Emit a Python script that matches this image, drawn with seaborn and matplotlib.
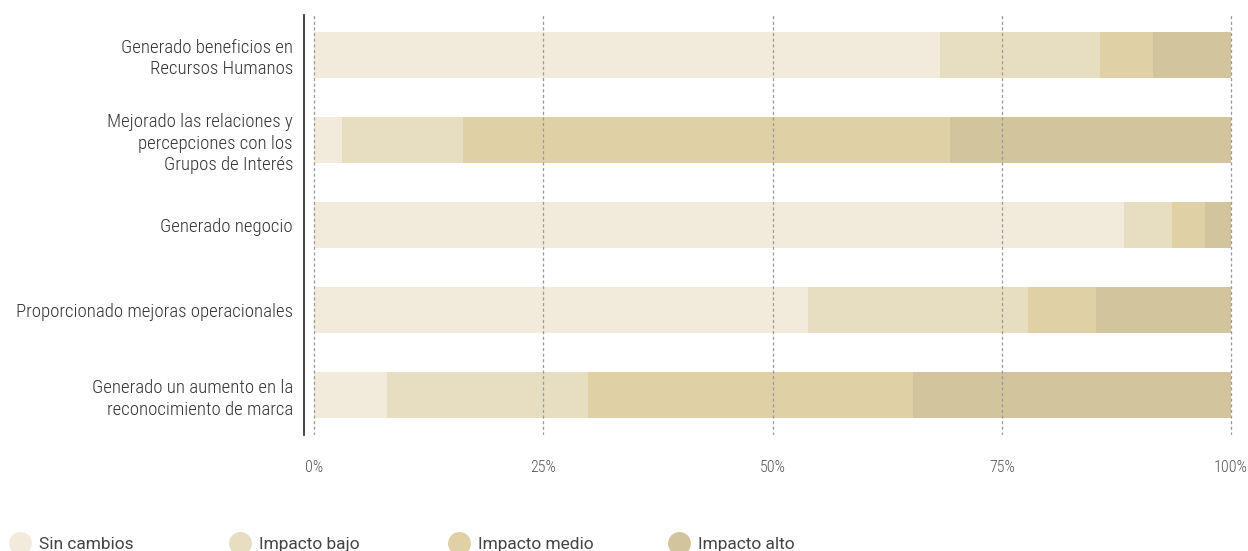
import numpy as np
import pandas as pd
import seaborn as sns
import matplotlib.pyplot as plt
from matplotlib import font_manager
from matplotlib.lines import Line2D

categories = [
    "Generado beneficios en\nRecursos Humanos",
    "Mejorado las relaciones y\npercepciones con los\nGrupos de Interés",
    "Generado negocio",
    "Proporcionado mejoras operacionales",
    "Generado un aumento en la\nreconocimiento de marca",
]
levels = ["Sin cambios", "Impacto bajo", "Impacto medio", "Impacto alto"]
sin_cambios = [68.3, 3.0, 88.3, 53.9, 7.9]
impacto_bajo = [17.4, 13.2, 5.3, 24.0, 22.0]
impacto_medio = [5.8, 53.2, 3.6, 7.4, 35.4]
impacto_alto = [8.5, 30.6, 2.8, 14.7, 34.7]
colors = ["#F2EBDC", "#E7DDC1", "#DFD0A6", "#D2C49D"]

df = pd.DataFrame({"categoria": categories,
                   levels[0]: sin_cambios, levels[1]: impacto_bajo,
                   levels[2]: impacto_medio, levels[3]: impacto_alto})
cum = df[levels].cumsum(axis=1)

# condensed face for the axis labels if present, plain Roboto otherwise
installed = {f.name for f in font_manager.fontManager.ttflist}
if "Roboto Condensed" in installed:
    lab_font = font_manager.FontProperties(family="Roboto Condensed", weight="light", size=13.5)
    tick_font = font_manager.FontProperties(family="Roboto Condensed", weight="light", size=11.5)
else:
    lab_font = font_manager.FontProperties(family="Roboto", size=12.5)
    tick_font = font_manager.FontProperties(family="Roboto", size=11)

sns.set_style("white")
plt.rcParams["font.family"] = ["Roboto", "DejaVu Sans"]

fig = plt.figure(figsize=(12.48, 5.51), dpi=100)
ax = fig.add_axes([304 / 1248, 1 - 435 / 551, (1232.5 - 304) / 1248, 420 / 551])

# stacked bars: draw cumulative totals from widest to narrowest
for lvl, col in reversed(list(zip(levels, colors))):
    sns.barplot(x=cum[lvl], y=df["categoria"], color=col, orient="h",
                width=0.54, ax=ax, saturation=1, edgecolor="none")

ax.set_xlim(-1.1, 100.16)
ax.set_ylim(4.47, -0.47)
ax.set_xticks([0, 25, 50, 75, 100])
ax.set_xticklabels(["0%", "25%", "50%", "75%", "100%"])
ax.set_xlabel("")
ax.set_ylabel("")
ax.set_axisbelow(False)
ax.grid(axis="x", color="#9a9a9a", linestyle=(0, (2.5, 2)), linewidth=0.9)
ax.grid(axis="y", visible=False)
for s in ["top", "right", "bottom"]:
    ax.spines[s].set_visible(False)
ax.spines["left"].set_color("#222222")
ax.spines["left"].set_linewidth(1.2)
ax.tick_params(axis="x", length=0, pad=18, labelcolor="#555555")
ax.tick_params(axis="y", length=0, pad=8, labelcolor="#333333")
for t in ax.get_yticklabels():
    t.set_fontproperties(lab_font)
    t.set_linespacing(1.25)
for t in ax.get_xticklabels():
    t.set_fontproperties(tick_font)

# legend: evenly spaced entries along the bottom edge
for i, (lvl, col) in enumerate(zip(levels, colors)):
    h = Line2D([0], [0], marker="o", linestyle="none", markersize=16.5,
               markerfacecolor=col, markeredgecolor="none")
    fig.legend([h], [lvl], loc="center left",
               bbox_to_anchor=((8 + 219.5 * i) / 1248, 1 - 544 / 551),
               frameon=False, borderpad=0, borderaxespad=0,
               handlelength=1.4, handletextpad=0.4,
               prop={"family": ["Roboto", "DejaVu Sans"], "size": 12.5},
               labelcolor="#444444")

fig.savefig("out.png", dpi=100)
